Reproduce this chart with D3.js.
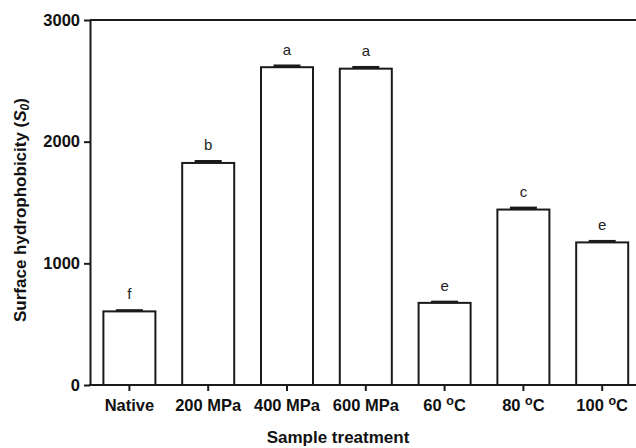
<!DOCTYPE html>
<html>
<head>
<meta charset="utf-8">
<script src="https://cdn.jsdelivr.net/npm/d3@7"></script>
<style>
  body { margin: 0; background: #fff; }
  svg text { font-family: "Liberation Sans", Arial, sans-serif; }
</style>
</head>
<body>
<div id="chart"></div>
<script>
// data
const treatments = ["Native", "200 MPa", "400 MPa", "600 MPa", "60 °C", "80 °C", "100 °C"]
const s0Values = [605, 1825, 2612, 2600, 675, 1442, 1172]
const s0Errors = [8, 14, 12, 12, 8, 14, 10]
const letters = ["f", "b", "a", "a", "e", "c", "e"]
const yTicks = [0, 1000, 2000, 3000]

const svgWidth = 636
const svgHeight = 448

let margin = { top: 20, left: 90, bottom: 63 }
let plotBottom = svgHeight - margin.bottom  // 385

let svg = d3.select("#chart")
	.append("svg")
	.attr("width", svgWidth)
	.attr("height", svgHeight)

// scales (plot runs past the right edge, as in the figure)
let x = d3.scaleBand()
	.domain(treatments)
	.range([margin.left, margin.left + 7 * 78.8])
	.paddingInner(0.34)
	.paddingOuter(0.17)

let y = d3.scaleLinear()
	.domain([0, 3000])
	.range([plotBottom, margin.top])

const ink = "#1a1a1a"

// top frame line
svg.append("line")
	.attr("x1", margin.left).attr("x2", svgWidth)
	.attr("y1", y(3000)).attr("y2", y(3000))
	.attr("stroke", ink).attr("stroke-width", 2)

// bars
svg.selectAll(".bar")
	.data(treatments)
	.enter()
	.append("rect")
	.attr("class", "bar")
	.attr("x", d => x(d))
	.attr("y", (d, i) => y(s0Values[i]))
	.attr("width", x.bandwidth())
	.attr("height", (d, i) => plotBottom - y(s0Values[i]))
	.attr("fill", "#fff")
	.attr("stroke", ink)
	.attr("stroke-width", 2)

// error bars (upper only)
let errG = svg.append("g")
treatments.forEach((d, i) => {
	let cx = x(d) + x.bandwidth() / 2
	let top = y(s0Values[i] + s0Errors[i])
	errG.append("line")
		.attr("x1", cx).attr("x2", cx)
		.attr("y1", y(s0Values[i])).attr("y2", top)
		.attr("stroke", ink).attr("stroke-width", 2)
	errG.append("line")
		.attr("x1", cx - 13.5).attr("x2", cx + 13.5)
		.attr("y1", top).attr("y2", top)
		.attr("stroke", ink).attr("stroke-width", 2.5)
})

// significance letters
svg.selectAll(".sig")
	.data(treatments)
	.enter()
	.append("text")
	.attr("class", "sig")
	.attr("x", d => x(d) + x.bandwidth() / 2)
	.attr("y", (d, i) => y(s0Values[i] + s0Errors[i]) - 11)
	.attr("text-anchor", "middle")
	.attr("font-size", 15)
	.attr("fill", "#222")
	.text((d, i) => letters[i])

// y axis
let yAxis = svg.append("g")
	.attr("transform", `translate(${margin.left},0)`)
	.call(d3.axisLeft(y).tickValues(yTicks).tickFormat(d3.format("d")).tickSize(6).tickSizeOuter(0).tickPadding(4))
yAxis.select(".domain").attr("stroke", ink).attr("stroke-width", 2)
yAxis.selectAll(".tick line").attr("stroke", ink).attr("stroke-width", 2)
yAxis.selectAll(".tick text")
	.attr("font-size", 16.5)
	.attr("font-weight", "bold")
	.attr("fill", "#111")
	.style("font-family", "'Liberation Sans', Arial, sans-serif")

// x axis
let xAxis = svg.append("g")
	.attr("transform", `translate(0,${plotBottom})`)
	.call(d3.axisBottom(x).tickSize(6).tickSizeOuter(0).tickFormat(""))
xAxis.select(".domain").remove()
xAxis.selectAll(".tick line").attr("stroke", ink).attr("stroke-width", 2)
xAxis.append("line")
	.attr("x1", margin.left - 1).attr("x2", svgWidth)
	.attr("stroke", ink).attr("stroke-width", 2)

// tick labels with raised degree "o"
let xLabels = xAxis.selectAll(".tick")
	.append("text")
	.attr("y", 26)
	.attr("text-anchor", "middle")
	.attr("font-size", 16.5)
	.attr("font-weight", "bold")
	.attr("fill", "#111")
xLabels.each(function (d) {
	let t = d3.select(this)
	if (d.includes("°C")) {
		let num = d.split(" ")[0]
		t.append("tspan").text(num + " ")
		t.append("tspan").attr("font-size", 12.5).attr("dy", -6).text("o")
		t.append("tspan").attr("dy", 6).text("C")
	} else {
		t.text(d)
	}
})

// axis titles
svg.append("text")
	.attr("x", 338)
	.attr("y", 443)
	.attr("text-anchor", "middle")
	.attr("font-size", 17)
	.attr("font-weight", "bold")
	.attr("fill", "#111")
	.text("Sample treatment")

let yTitle = svg.append("text")
	.attr("transform", `translate(26,210) rotate(-90)`)
	.attr("text-anchor", "middle")
	.attr("font-size", 17)
	.attr("font-weight", "bold")
	.attr("fill", "#111")
yTitle.append("tspan").text("Surface hydrophobicity (")
yTitle.append("tspan").attr("font-style", "italic").text("S")
yTitle.append("tspan").attr("font-style", "italic").attr("font-size", 12).attr("dy", 3).text("0")
yTitle.append("tspan").attr("dy", -3).text(")")
</script>
</body>
</html>
